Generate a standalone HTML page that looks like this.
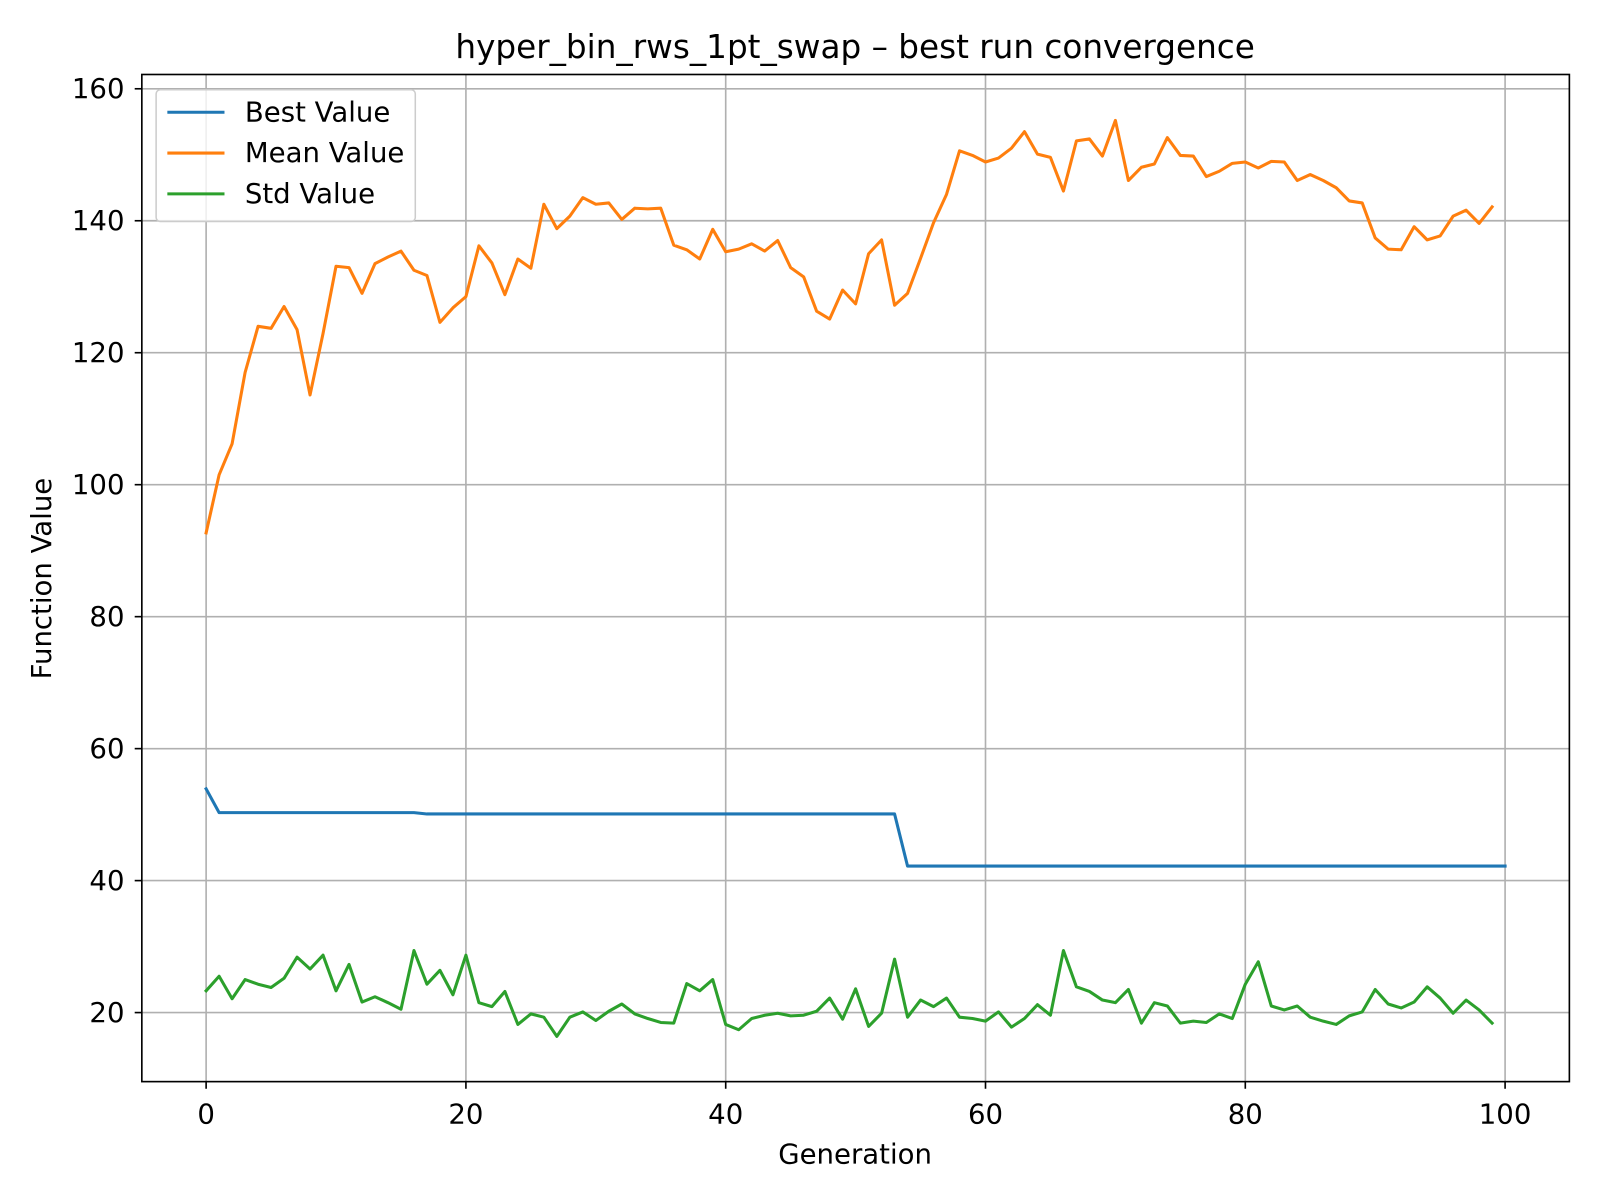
<!DOCTYPE html>
<html><head><meta charset="utf-8">
<style>
html,body{margin:0;padding:0;background:#fff;}
svg{display:block;font-family:"DejaVu Sans","Liberation Sans",sans-serif;}
</style></head>
<body>
<svg id="chart" width="1600" height="1200" viewBox="0 0 1600 1200" xmlns="http://www.w3.org/2000/svg">
<rect width="1600" height="1200" fill="#fff"/>
<g transform="scale(1.0204)">
<text x="838" y="57" text-anchor="middle" font-size="32" fill="#000">hyper_bin_rws_1pt_swap – best run convergence</text>
<g id="grid"></g>
<g id="series"></g>
<rect x="139" y="73" width="1399" height="987" fill="none" stroke="#000" stroke-width="1.6"/>
<g id="ticks"></g>
<text x="838" y="1140" text-anchor="middle" font-size="27">Generation</text>
<text transform="translate(50,567) rotate(-90)" text-anchor="middle" font-size="27">Function Value</text>
<g>
<rect x="153" y="88" width="254" height="129" rx="4" fill="#fff" fill-opacity="0.8" stroke="#ccc" stroke-width="1.5"/>
<g><line x1="164" y1="110" x2="220" y2="110" stroke="#1f77b4" stroke-width="3"/><text x="240" y="119" font-size="27">Best Value</text></g>
<g><line x1="164" y1="150" x2="220" y2="150" stroke="#ff7f0e" stroke-width="3"/><text x="240" y="159" font-size="27">Mean Value</text></g>
<g><line x1="164" y1="190" x2="220" y2="190" stroke="#2ca02c" stroke-width="3"/><text x="240" y="199" font-size="27">Std Value</text></g>
</g>
</g>
</svg>
<script>
const xTicks=[0,20,40,60,80,100];
const yTicks=[20,40,60,80,100,120,140,160];
const bestValues=[53.9].concat(Array(16).fill(50.3)).concat(Array(37).fill(50.1)).concat(Array(47).fill(42.2));
const meanValues=[92.7,101.5,106.2,117,124,123.7,127,123.5,113.6,122.9,133.1,132.9,129,133.5,134.5,135.4,132.5,131.7,124.6,126.8,128.5,136.2,133.6,128.8,134.2,132.8,142.5,138.8,140.7,143.5,142.5,142.7,140.2,141.9,141.8,141.9,136.3,135.6,134.2,138.7,135.3,135.7,136.5,135.4,137,132.9,131.5,126.3,125.1,129.5,127.4,135,137.1,127.2,129,134.3,139.7,144,150.6,149.9,148.9,149.5,151,153.5,150.1,149.6,144.5,152.1,152.4,149.8,155.2,146.1,148.1,148.6,152.6,149.9,149.8,146.7,147.5,148.7,148.9,148,149,148.9,146.1,147,146.1,145,143,142.7,137.4,135.7,135.6,139.1,137.1,137.7,140.7,141.6,139.6,142.1];
const stdValues=[23.3,25.5,22.1,25,24.3,23.8,25.2,28.4,26.6,28.7,23.3,27.3,21.6,22.4,21.5,20.5,29.4,24.3,26.4,22.7,28.7,21.5,20.9,23.2,18.2,19.8,19.3,16.4,19.3,20.1,18.8,20.2,21.3,19.8,19.1,18.5,18.4,24.4,23.3,25,18.2,17.4,19.1,19.6,19.9,19.5,19.6,20.2,22.2,19,23.6,17.9,19.9,28.1,19.3,21.9,20.9,22.2,19.3,19.1,18.7,20.1,17.8,19.1,21.2,19.6,29.4,23.9,23.2,21.9,21.5,23.5,18.4,21.5,21,18.4,18.7,18.5,19.8,19.1,24.3,27.7,21,20.4,21,19.3,18.7,18.2,19.5,20.1,23.5,21.3,20.7,21.6,23.9,22.2,19.9,21.9,20.4,18.4];

const NS="http://www.w3.org/2000/svg";
const X0=202,XS=(1475-202)/100;
const Y0=863,YS=(863-87)/120;
function xs(v){return X0+(v-0)*XS;}
function ys(v){return Y0-(v-40)*YS;}
const grid=document.getElementById('grid'),ticks=document.getElementById('ticks'),series=document.getElementById('series');
function mk(t,a,p){const e=document.createElementNS(NS,t);for(const k in a)e.setAttribute(k,a[k]);p.appendChild(e);return e;}
xTicks.forEach(v=>{
  const x=xs(v);
  const g=mk('line',{x1:x,y1:73,x2:x,y2:1060,stroke:'#b0b0b0','stroke-width':1.6},grid);
  
  
  const t=mk('line',{x1:x,y1:1060,x2:x,y2:1067,stroke:'#000','stroke-width':1.6},ticks);
  
  
  const l=mk('text',{x:x,y:1101,'text-anchor':'middle','font-size':27},ticks);
  l.textContent=v;
  
  
});
yTicks.forEach(v=>{
  const y=ys(v);
  const g=mk('line',{x1:139,y1:y,x2:1538,y2:y,stroke:'#b0b0b0','stroke-width':1.6},grid);
  
  
  const t=mk('line',{x1:132,y1:y,x2:139,y2:y,stroke:'#000','stroke-width':1.6},ticks);
  
  
  const l=mk('text',{x:122,y:y+9,'text-anchor':'end','font-size':27},ticks);
  l.textContent=v;
  
  
});
function line(vals,color,name){
  const d=vals.map((v,i)=>(i?'L':'M')+xs(i).toFixed(2)+','+ys(v).toFixed(2)).join(' ');
  const p=mk('path',{d:d,fill:'none',stroke:color,'stroke-width':3,'stroke-linejoin':'round','stroke-linecap':'square'},series);
  
  
}
line(bestValues,'#1f77b4','best-value-line');
line(meanValues,'#ff7f0e','mean-value-line');
line(stdValues,'#2ca02c','std-value-line');
</script>
</body></html>
